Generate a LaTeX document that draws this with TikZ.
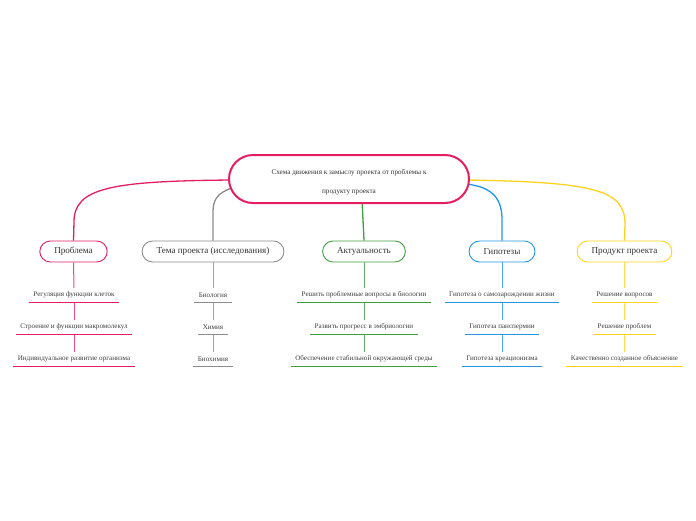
\documentclass[tikz,border=0pt]{standalone}
\usepackage{fontspec}
\setmainfont{Liberation Serif}
\usetikzlibrary{backgrounds}
\definecolor{pinkc}{RGB}{228,30,96}
\definecolor{grayc}{RGB}{140,140,140}
\definecolor{greenc}{RGB}{64,158,64}
\definecolor{bluec}{RGB}{33,150,232}
\definecolor{yellowc}{RGB}{255,210,30}
\tikzset{
  mainnode/.style={draw=#1, line width=0.9pt, rounded corners=10.5pt, minimum height=21pt, inner xsep=14.5pt, inner ysep=0pt, fill=white, font=\fontsize{9.1}{10}\selectfont, text=black!80},
  subnode/.style={minimum height=14pt, inner xsep=4.5pt, inner ysep=0pt, font=\fontsize{7.1}{8}\selectfont, text=black!75},
  uline/.style={draw=#1, line width=0.9pt},
  vline/.style={draw=#1!80, line width=1pt},
  conn/.style={draw=#1, line width=1.3pt}
}
\begin{document}
\begin{tikzpicture}[x=1pt,y=-1pt]
\useasboundingbox (0,0) rectangle (696,520);
% central
\node[draw=pinkc, line width=2pt, rounded corners=24pt, minimum width=240pt, minimum height=48pt, fill=white] (c) at (349,179) {};
\node[align=center, text=black!80, font=\fontsize{7.15}{19}\selectfont] (ct) at (349,182.5) {Схема движения к замыслу проекта от проблемы к\\продукту проекта};
% main nodes
\node[mainnode=pinkc] (m1) at (73.5,251.5) {Проблема};
\node[mainnode=grayc] (m2) at (213,251.5) {Тема проекта (исследования)};
\node[mainnode=greenc] (m3) at (364,251.5) {Актуальность};
\node[mainnode=bluec] (m4) at (502,251.5) {Гипотезы};
\node[mainnode=yellowc] (m5) at (624.5,251.5) {Продукт проекта};
% connector start points
\coordinate (s1) at (232,180);
\coordinate (s2) at (232,188);
\coordinate (s3) at (362,200);
\coordinate (s4) at (466,184);
\coordinate (s5) at (466,180);
\begin{scope}[on background layer]
\draw[conn=pinkc] (s1) .. controls (110,181) and (74,188) .. (74,222) -- (m1.north);
\draw[conn=grayc] (s2) .. controls (217,193) and (213,200) .. (213,212) -- (m2.north);
\draw[conn=greenc] (s3) -- (m3.north);
\draw[conn=bluec] (s4) .. controls (494,187) and (502,200) .. (502,220) -- (m4.north);
\draw[conn=yellowc] (s5) .. controls (595,182) and (625,190) .. (625,224) -- (m5.north);
\end{scope}
% sub nodes: Проблема
\node[subnode] (a1) at (74,295) {Регуляция функции клеток};
\node[subnode] (a2) at (74,327) {Строение и функции макромолекул};
\node[subnode] (a3) at (74,359) {Индивидуальное развитие организма};
% Тема
\node[subnode] (b1) at (213,295) {Биология};
\node[subnode] (b2) at (213,327) {Химия};
\node[subnode] (b3) at (213,359) {Биохимия};
% Актуальность
\node[subnode] (d1) at (364,295) {Решить проблемные вопросы в биологии};
\node[subnode] (d2) at (364,327) {Развить прогресс в эмбриологии};
\node[subnode] (d3) at (364,359) {Обеспечение стабильной окружающей среды};
% Гипотезы
\node[subnode] (e1) at (502,295) {Гипотеза о самозарождении жизни};
\node[subnode] (e2) at (502,327) {Гипотеза панспермии};
\node[subnode] (e3) at (502,359) {Гипотеза креационизма};
% Продукт
\node[subnode] (f1) at (624.5,295) {Решение вопросов};
\node[subnode] (f2) at (624.5,327) {Решение проблем};
\node[subnode] (f3) at (624.5,359) {Качественно созданное объяснение};
% vertical connectors and underlines
\foreach \p/\m/\col in {a/m1/pinkc, b/m2/grayc, d/m3/greenc, e/m4/bluec, f/m5/yellowc}{
  \draw[vline=\col] (\m.south) -- (\p1.north);
  \draw[vline=\col] (\p1.south) -- (\p2.north);
  \draw[vline=\col] (\p2.south) -- (\p3.north);
  \draw[uline=\col] (\p1.south west) -- (\p1.south east);
  \draw[uline=\col] (\p2.south west) -- (\p2.south east);
  \draw[uline=\col] (\p3.south west) -- (\p3.south east);
}
\end{tikzpicture}
\end{document}
